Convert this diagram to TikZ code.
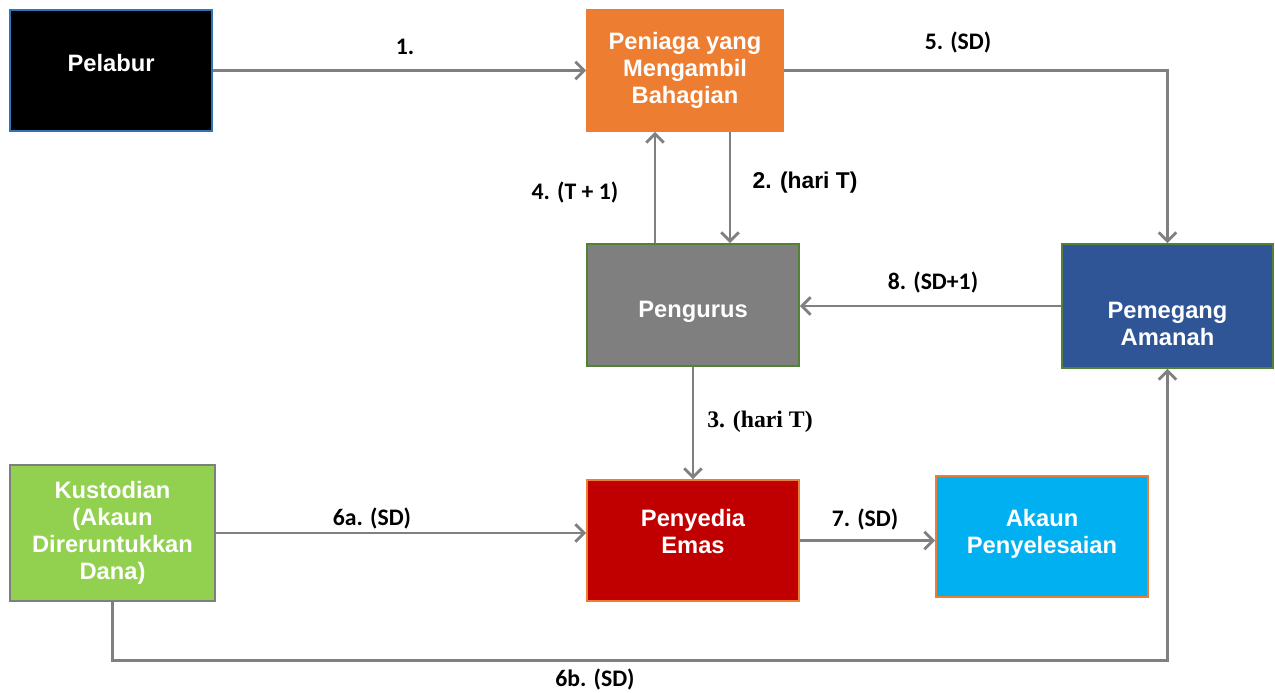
\documentclass[tikz,border=0pt]{standalone}
\usepackage{fontspec}
\setmainfont{Liberation Sans}
\newfontfamily\calfont{Carlito}
\newfontfamily\timesfont{Liberation Serif}
\usetikzlibrary{arrows.meta}
\definecolor{linegray}{RGB}{128,128,128}
\definecolor{edgeblue}{RGB}{46,117,182}
\definecolor{edgegreen}{RGB}{83,129,53}
\definecolor{boxorange}{RGB}{237,125,49}
\definecolor{boxgray}{RGB}{127,127,127}
\definecolor{boxnavy}{RGB}{47,85,151}
\definecolor{boxlime}{RGB}{146,208,80}
\definecolor{boxred}{RGB}{192,0,0}
\definecolor{boxcyan}{RGB}{0,176,240}

\begin{document}
\begin{tikzpicture}[x=0.02cm,y=-0.02cm,
  blok/.style={draw,line width=1pt,text=white,align=center,inner sep=0pt,
    font=\fontsize{13.5}{15.4}\selectfont\bfseries},
  lbl/.style={font=\calfont\fontsize{13.5}{15}\selectfont\bfseries},
  flow/.style={draw=linegray,line width=1.6pt,-{Straight Barb[length=5pt,width=10pt]}}]
\useasboundingbox (0,0) rectangle (1275,693);
% boxes
\node[blok,fill=black,draw=edgeblue,minimum width=4.04cm,minimum height=2.42cm,text depth=0.32cm] (pelabur) at (111,70.5) {Pelabur};
\node[blok,fill=boxorange,draw=boxorange,minimum width=3.92cm,minimum height=2.42cm] (peniaga) at (685,70.5) {Peniaga yang\\Mengambil\\Bahagian};
\node[blok,fill=boxgray,draw=edgegreen,minimum width=4.24cm,minimum height=2.44cm,text height=0.6cm] (pengurus) at (693,305) {Pengurus};
\node[blok,fill=boxnavy,draw=edgegreen,minimum width=4.22cm,minimum height=2.48cm,text height=1.58cm] (pemegang) at (1167.5,306) {Pemegang\\Amanah};
\node[blok,fill=boxlime,draw=boxgray,minimum width=4.1cm,minimum height=2.72cm] (kustodian) at (112.5,533) {Kustodian\\(Akaun\\Direruntukkan\\Dana)};
\node[blok,fill=boxred,draw=boxorange,minimum width=4.24cm,minimum height=2.42cm,text depth=0.35cm] (penyedia) at (693,540.5) {Penyedia\\Emas};
\node[blok,fill=boxcyan,draw=boxorange,minimum width=4.24cm,minimum height=2.42cm,text depth=0.2cm] (akaun) at (1042,536.5) {Akaun\\Penyelesaian};
% labels
\node[lbl] (l1) at (405,47) {1.};
\node[font=\fontsize{13}{15}\selectfont\bfseries] (l2) at (805,183) {2. (hari T)};
\node[lbl] (l4) at (575,192) {4. (T + 1)};
\node[lbl] (l5) at (958,42) {5. (SD)};
\node[lbl] (l8) at (933,282) {8. (SD+1)};
\node[font=\timesfont\fontsize{13.5}{15}\selectfont\bfseries] (l3) at (760,422) {3. (hari T)};
\node[lbl] (l6a) at (372,518) {6a. (SD)};
\node[lbl] (l7) at (865,519) {7. (SD)};
\node[lbl] (l6b) at (595,679) {6b. (SD)};
% connectors
\draw[flow] (pelabur.east) -- (peniaga.west);
\draw[flow] ([xshift=0.9cm]peniaga.south) -- ([xshift=0.9cm]peniaga.south |- pengurus.north);
\draw[flow] ([xshift=-0.76cm]pengurus.north) -- ([xshift=-0.76cm]pengurus.north |- peniaga.south);
\draw[flow] (peniaga.east) -| (pemegang.north);
\draw[flow] (pemegang.west) -- (pemegang.west -| pengurus.east);
\draw[flow] (pengurus.south) -- (penyedia.north);
\draw[flow] (kustodian.east) -- (kustodian.east -| penyedia.west);
\draw[flow] (penyedia.east) -- (penyedia.east -| akaun.west);
\draw[flow] (kustodian.south) -- ++(0,59) -| (pemegang.south);
\end{tikzpicture}
\end{document}
